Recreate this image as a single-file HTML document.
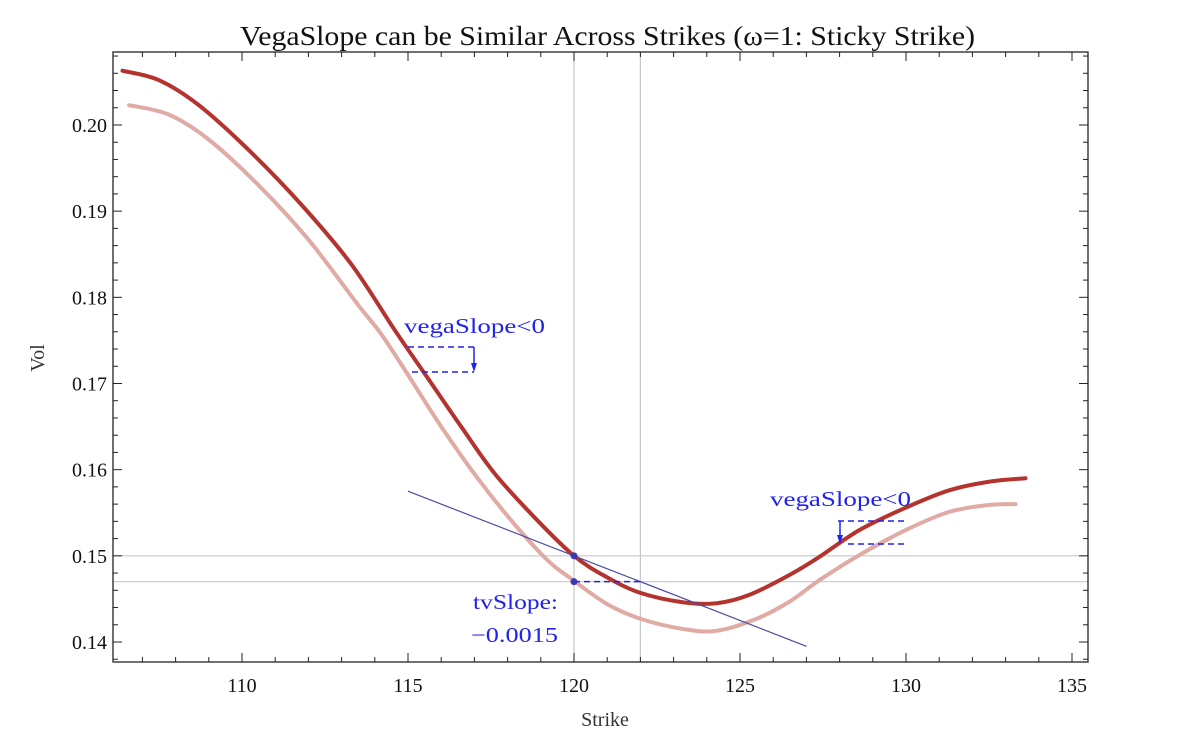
<!DOCTYPE html>
<html><head><meta charset="utf-8"><style>
body{margin:0;background:#fff;}
svg{display:block;font-family:"Liberation Serif",serif;}
</style></head><body>
<svg id="chart" width="1179" height="739" viewBox="0 0 1179 739">
<text x="240" y="45" textLength="735" lengthAdjust="spacingAndGlyphs" font-size="27" fill="#111">VegaSlope can be Similar Across Strikes (ω=1: Sticky Strike)</text>
<text x="605" y="726" text-anchor="middle" font-size="20" fill="#333">Strike</text>
<text transform="translate(44,358) rotate(-90)" text-anchor="middle" font-size="20" fill="#333">Vol</text>
<g id="plot"></g>
</svg>
<script>
const xTicks=[110,115,120,125,130,135];
const yTicks=[0.14,0.15,0.16,0.17,0.18,0.19,0.20];
const yTickLabels=["0.14","0.15","0.16","0.17","0.18","0.19","0.20"];
const darkStrikes=[106.4,107.5,108.7,110.2,111.8,113.3,114.6,115.6,116.6,117.6,118.8,120,121,122,123.3,124.3,125.3,126.5,127.4,128.6,130,131.3,132.5,133.6];
const darkVols=[0.2063,0.2052,0.2023,0.1971,0.1907,0.1838,0.1762,0.1706,0.1650,0.1596,0.1545,0.1500,0.1475,0.1457,0.1446,0.1445,0.1455,0.1478,0.1499,0.1530,0.1556,0.1576,0.1586,0.1590];
const lightStrikes=[106.6,107.8,109,110.5,112,113.5,114.2,115,116,117.1,118.2,119.2,120,121,122,123.3,124.3,125.5,126.5,127.4,128.6,130,131.3,132.5,133.3];
const lightVols=[0.2023,0.2012,0.1983,0.1930,0.1867,0.1791,0.1757,0.1710,0.1650,0.1590,0.1537,0.1495,0.1471,0.1444,0.1427,0.1415,0.1413,0.1427,0.1447,0.1472,0.1501,0.1530,0.1551,0.1559,0.1560];
const atmStrike=120, atmVol=0.15, shiftedVol=0.147, tvSlope=-0.0015, gridStrike=122;
const tangentRange=[115,127];

const L=113,R=1088,T=52,B=662;
const sx=v=>242+(v-110)*33.2;
const sy=v=>642-(v-0.14)*8617;
const NS="http://www.w3.org/2000/svg";
const plot=document.getElementById('plot');
function mk(tag,attrs,parent){const e=document.createElementNS(NS,tag);for(const k in attrs)e.setAttribute(k,attrs[k]);(parent||plot).appendChild(e);return e;}

let g=mk('line',{x1:sx(atmStrike),x2:sx(atmStrike),y1:T,y2:B,stroke:'#c8c8c8','stroke-width':1.2});


g=mk('line',{x1:sx(gridStrike),x2:sx(gridStrike),y1:T,y2:B,stroke:'#c8c8c8','stroke-width':1.2});


g=mk('line',{x1:L,x2:R,y1:sy(atmVol),y2:sy(atmVol),stroke:'#c8c8c8','stroke-width':1.2});


g=mk('line',{x1:L,x2:R,y1:sy(shiftedVol),y2:sy(shiftedVol),stroke:'#c8c8c8','stroke-width':1.2});



const fr=mk('rect',{x:L,y:T,width:R-L,height:B-T,fill:'none',stroke:'#222','stroke-width':1.3});



for(let v=107;v<=135;v++){const maj=v%5===0;const x=sx(v);const len=maj?9:5;
 mk('line',{x1:x,x2:x,y1:B,y2:B-len,stroke:'#222','stroke-width':1});
 mk('line',{x1:x,x2:x,y1:T,y2:T+len,stroke:'#222','stroke-width':1});}
for(let i=0;i<xTicks.length;i++){const t=mk('text',{x:sx(xTicks[i]),y:B+30,'text-anchor':'middle','font-size':20,fill:'#111'});t.textContent=xTicks[i];
 
 }
for(let k=69;k<=105;k++){const v=k/500;const y=sy(v);if(y<T||y>B)continue;const maj=k%5===0;const len=maj?9:5;
 mk('line',{x1:L,x2:L+len,y1:y,y2:y,stroke:'#222','stroke-width':1});
 mk('line',{x1:R,x2:R-len,y1:y,y2:y,stroke:'#222','stroke-width':1});}
for(let i=0;i<yTicks.length;i++){const t=mk('text',{x:L-6,y:sy(yTicks[i])+7,'text-anchor':'end','font-size':20,fill:'#111'});t.textContent=yTickLabels[i];
 
 }

function path(xs,ys){const p=xs.map((x,i)=>[sx(x),sy(ys[i])]);
 let d='M'+p[0][0]+','+p[0][1];
 for(let i=0;i<p.length-1;i++){const p0=p[i-1]||p[i],p1=p[i],p2=p[i+1],p3=p[i+2]||p2;
  d+=' C'+(p1[0]+(p2[0]-p0[0])/6)+','+(p1[1]+(p2[1]-p0[1])/6)+' '+(p2[0]-(p3[0]-p1[0])/6)+','+(p2[1]-(p3[1]-p1[1])/6)+' '+p2[0]+','+p2[1];}
 return d;}
let c=mk('path',{d:path(lightStrikes,lightVols),fill:'none',stroke:'#e0aaa5','stroke-width':4,'stroke-linecap':'round'});


c=mk('path',{d:path(darkStrikes,darkVols),fill:'none',stroke:'#b5332e','stroke-width':4,'stroke-linecap':'round'});



const tl=mk('line',{x1:sx(tangentRange[0]),y1:sy(atmVol+tvSlope*(tangentRange[0]-atmStrike)),x2:sx(tangentRange[1]),y2:sy(atmVol+tvSlope*(tangentRange[1]-atmStrike)),stroke:'#4a4aa8','stroke-width':1.2});


let dl=mk('line',{x1:sx(atmStrike),x2:sx(gridStrike),y1:sy(shiftedVol),y2:sy(shiftedVol),stroke:'#2222ee','stroke-width':1.5,'stroke-dasharray':'6,4'});


let d1=mk('circle',{cx:sx(atmStrike),cy:sy(atmVol),r:3.5,fill:'#3a3ab0'});


let d2=mk('circle',{cx:sx(atmStrike),cy:sy(shiftedVol),r:3.5,fill:'#3a3ab0'});



function ann(name,x1a,x1b,x2a,x2b,y1,y2,ax,tx,ty){
 const grp=mk('g',{});
 
 
 mk('line',{x1:x1a,x2:x1b,y1:y1,y2:y1,stroke:'#2222ee','stroke-width':1.5,'stroke-dasharray':'6,4'},grp);
 mk('line',{x1:x2a,x2:x2b,y1:y2,y2:y2,stroke:'#2222ee','stroke-width':1.5,'stroke-dasharray':'6,4'},grp);
 mk('line',{x1:ax,x2:ax,y1:y1,y2:y2-7,stroke:'#2222ee','stroke-width':1.5},grp);
 mk('path',{d:`M${ax-3},${y2-9} L${ax+3},${y2-9} L${ax},${y2} Z`,fill:'#2222ee'},grp);
 const t=mk('text',{x:tx,y:ty,'font-size':21,fill:'#2222ee',textLength:141,lengthAdjust:'spacingAndGlyphs'},grp);t.textContent='vegaSlope<0';
}
ann('vega-slope-annotation-left',408,474,412,474,347,372,474,404,333);
ann('vega-slope-annotation-right',838,908,848,908,521,544,840,770,506);
let t1=mk('text',{x:473,y:609,'font-size':21,fill:'#2222ee',textLength:85,lengthAdjust:'spacingAndGlyphs'});t1.textContent='tvSlope:';


let t2=mk('text',{x:471,y:642,'font-size':21,fill:'#2222ee',textLength:87,lengthAdjust:'spacingAndGlyphs'});t2.textContent='−0.0015';


</script>
</body></html>
